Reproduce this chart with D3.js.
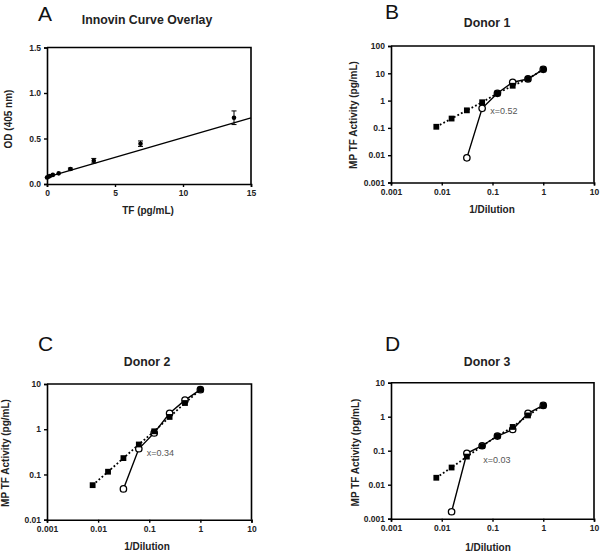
<!DOCTYPE html>
<html><head><meta charset="utf-8">
<script src="https://cdn.jsdelivr.net/npm/d3@7"></script>
<style>body{margin:0;background:#fff} svg{display:block;font-family:"Liberation Sans",Arial,sans-serif}</style>
</head><body><svg id="c" width="601" height="552"></svg>
<script>
// ---------- DATA ----------
// Panel A: Innovin standard curve
const innovinTF  = [13.75, 6.875, 3.44, 1.72, 0.86, 0.43, 0.215, 0.107, 0];
const innovinOD  = [0.728, 0.443, 0.256, 0.165, 0.117, 0.100, 0.088, 0.080, 0.072];
const innovinErr = [0.075, 0.030, 0.025, 0.010, 0.008, 0.005, 0.005, 0.005, 0.005];
const innovinFit = [0.075, 0.0435]; // intercept, slope
const aXTicks = [0, 5, 10, 15];
const aXTickLabels = ["0", "5", "10", "15"];
const aYTicks = [0, 0.5, 1.0, 1.5];
const aYTickLabels = ["0.0", "0.5", "1.0", "1.5"];

// Panels B-D: 1/Dilution vs MP TF activity
const dilutions = [1/128, 1/64, 1/32, 1/16, 1/8, 1/4, 1/2, 1];
const donor1Squares = [0.11, 0.22, 0.44, 0.87, 1.85, 3.5, 6.2, 14];
const donor1Circles = [null, null, 0.008, 0.52, 1.85, 4.7, 6.2, 14];
const donor2Squares = [0.058, 0.115, 0.23, 0.46, 0.9, 1.87, 3.8, 7.5];
const donor2Circles = [null, null, 0.048, 0.37, 0.83, 2.25, 4.4, 7.5];
const donor3Squares = [0.016, 0.032, 0.067, 0.137, 0.27, 0.5, 1.09, 2.15];
const donor3Circles = [null, 0.0016, 0.084, 0.14, 0.27, 0.42, 1.25, 2.15];
const logXTicks = [0.001, 0.01, 0.1, 1, 10];
const logXTickLabels = ["0.001", "0.01", "0.1", "1", "10"];
const yTicksB = [0.001, 0.01, 0.1, 1, 10, 100];
const yTickLabelsB = ["0.001", "0.01", "0.1", "1", "10", "100"];
const yTicksC = [0.01, 0.1, 1, 10];
const yTickLabelsC = ["0.01", "0.1", "1", "10"];
const yTicksD = [0.001, 0.01, 0.1, 1, 10];
const yTickLabelsD = ["0.001", "0.01", "0.1", "1", "10"];
const annotations = ["x=0.52", "x=0.34", "x=0.03"];
const annotAt = [[0.09, 0.32], [0.089, 0.25], [0.066, 0.0435]];

// ---------- DRAW ----------
const svg = d3.select("#c");
const FONT = '"Liberation Sans",Arial,sans-serif';

function styleAxis(g) {
  g.select(".domain").attr("stroke", "#000").attr("stroke-width", 1.6);
  g.selectAll(".tick line").attr("stroke", "#000").attr("stroke-width", 1.4);
  g.selectAll(".tick text").attr("fill", "#222").attr("font-size", 8.5)
    .attr("font-weight", "bold").attr("font-family", FONT);
}

function texts(letter, lx, ly, title, tx, ty, xt, xtx, xty, yt, ytx, yty) {
  svg.append("text").attr("x", lx).attr("y", ly).text(letter)
    .attr("font-size", 21).attr("font-family", FONT).attr("fill", "#111");
  svg.append("text").attr("x", tx).attr("y", ty).text(title)
    .attr("text-anchor", "middle").attr("font-size", 12.3).attr("font-weight", "bold")
    .attr("font-family", FONT).attr("fill", "#222");
  svg.append("text").attr("x", xtx).attr("y", xty).text(xt)
    .attr("text-anchor", "middle").attr("font-size", 10).attr("font-weight", "bold")
    .attr("font-family", FONT).attr("fill", "#222");
  svg.append("text").attr("transform", `translate(${ytx},${yty}) rotate(-90)`).text(yt)
    .attr("text-anchor", "middle").attr("dominant-baseline", "central")
    .attr("font-size", 10).attr("font-weight", "bold")
    .attr("font-family", FONT).attr("fill", "#222");
}

// Panel A
(function () {
  const x = d3.scaleLinear().domain([0, 15]).range([47, 251]);
  const y = d3.scaleLinear().domain([0, 1.5]).range([184, 47.5]);
  const [x0, x1] = x.range(), [y0, y1] = y.range();
  svg.append("path").attr("d", `M${x0},${y1}H${x1}V${y0}`)
    .attr("fill", "none").attr("stroke", "#000").attr("stroke-width", 1.6);
  svg.append("g").attr("transform", `translate(0,${y0})`)
    .call(d3.axisBottom(x).tickValues(aXTicks).tickFormat((d, i) => aXTickLabels[i])
      .tickSizeOuter(0).tickSize(3).tickPadding(3)).call(styleAxis);
  svg.append("g").attr("transform", `translate(${x0},0)`)
    .call(d3.axisLeft(y).tickValues(aYTicks).tickFormat((d, i) => aYTickLabels[i])
      .tickSizeOuter(0).tickSize(3).tickPadding(3)).call(styleAxis);

  const line = d3.line().x(d => x(d)).y(d => y(innovinFit[0] + innovinFit[1] * d));
  svg.append("path").datum([0, 15]).attr("d", line)
    .attr("fill", "none").attr("stroke", "#000").attr("stroke-width", 1.4);
  const pts = innovinTF.map((t, i) => ({ t, od: innovinOD[i], e: innovinErr[i] }));
  const g = svg.append("g");
  pts.forEach(p => {
    if (p.e > 0.008) {
      const cx = x(p.t);
      g.append("path")
        .attr("d", `M${cx},${y(p.od - p.e)}V${y(p.od + p.e)}M${cx - 2.5},${y(p.od + p.e)}H${cx + 2.5}M${cx - 2.5},${y(p.od - p.e)}H${cx + 2.5}`)
        .attr("stroke", "#000").attr("stroke-width", 1).attr("fill", "none");
    }
    g.append("circle").attr("cx", x(p.t)).attr("cy", y(p.od)).attr("r", 2.3).attr("fill", "#000");
  });
  texts("A", 38, 20.5, "Innovin Curve Overlay", 147, 24, "TF (pg/mL)", 148, 213.5,
        "OD (405 nm)", 8, 119);
})();

function logPanel(xr, yDomain, yr, yTicks, yLabels, squares, circles, annot, at) {
  const x = d3.scaleLog().domain([0.001, 10]).range(xr);
  const y = d3.scaleLog().domain(yDomain).range(yr);
  const [x0, x1] = x.range(), [y0, y1] = y.range();
  svg.append("path").attr("d", `M${x0},${y1}H${x1}V${y0}`)
    .attr("fill", "none").attr("stroke", "#000").attr("stroke-width", 1.6);
  svg.append("g").attr("transform", `translate(0,${y0})`)
    .call(d3.axisBottom(x).tickValues(logXTicks).tickFormat((d, i) => logXTickLabels[i])
      .tickSizeOuter(0).tickSize(3).tickPadding(3)).call(styleAxis);
  svg.append("g").attr("transform", `translate(${x0},0)`)
    .call(d3.axisLeft(y).tickValues(yTicks).tickFormat((d, i) => yLabels[i])
      .tickSizeOuter(0).tickSize(3).tickPadding(3)).call(styleAxis);

  const sq = dilutions.map((d, i) => [d, squares[i]]).filter(p => p[1] != null);
  const ci = dilutions.map((d, i) => [d, circles[i]]).filter(p => p[1] != null);
  const line = d3.line().x(p => x(p[0])).y(p => y(p[1]));
  svg.append("path").datum(ci).attr("d", line).attr("fill", "none")
    .attr("stroke", "#000").attr("stroke-width", 1.4);
  svg.append("path").datum(sq).attr("d", line).attr("fill", "none")
    .attr("stroke", "#000").attr("stroke-width", 1.8).attr("stroke-dasharray", "1.8,2.2");
  svg.append("g").selectAll("circle").data(ci).join("circle")
    .attr("cx", p => x(p[0])).attr("cy", p => y(p[1])).attr("r", 3.2)
    .attr("fill", "#fff").attr("stroke", "#000").attr("stroke-width", 1.3);
  svg.append("g").selectAll("rect").data(sq).join("rect")
    .attr("x", p => x(p[0]) - 2.9).attr("y", p => y(p[1]) - 2.9)
    .attr("width", 5.8).attr("height", 5.8).attr("fill", "#000");
  svg.append("text").attr("x", x(at[0])).attr("y", y(at[1])).text(annot)
    .attr("font-size", 9).attr("fill", "#555").attr("font-family", FONT);
}

logPanel([391, 594], [0.001, 100], [182.5, 46], yTicksB, yTickLabelsB,
         donor1Squares, donor1Circles, annotations[0], annotAt[0]);
texts("B", 385, 18.5, "Donor 1", 487, 27, "1/Dilution", 492, 213, "MP TF Activity (pg/mL)", 353, 115);

logPanel([47, 251.5], [0.01, 10], [519.7, 384], yTicksC, yTickLabelsC,
         donor2Squares, donor2Circles, annotations[1], annotAt[1]);
texts("C", 38, 350.5, "Donor 2", 147, 366, "1/Dilution", 147, 550, "MP TF Activity (pg/mL)", 5.5, 453);

logPanel([391, 594], [0.001, 10], [518.7, 382.7], yTicksD, yTickLabelsD,
         donor3Squares, donor3Circles, annotations[2], annotAt[2]);
texts("D", 385, 350.5, "Donor 3", 487, 366, "1/Dilution", 488, 551, "MP TF Activity (pg/mL)", 355, 452.5);
</script></body></html>
